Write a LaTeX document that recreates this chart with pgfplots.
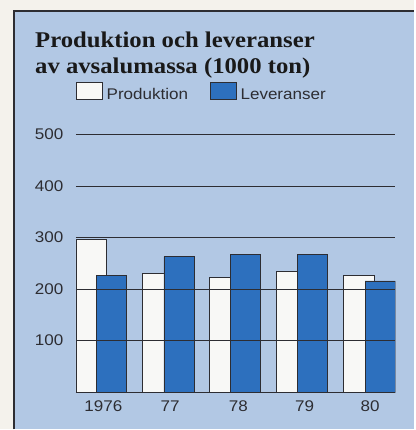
\documentclass[border=0pt]{standalone}
\usepackage{pgfplots}
\pgfplotsset{compat=1.18}
\usepackage{fontspec}
\setmainfont{Liberation Serif}[FakeStretch=1.1]
\setsansfont{Liberation Sans}[FakeStretch=1.1]
\definecolor{paper}{RGB}{244,242,236}
\definecolor{panel}{RGB}{178,200,228}
\definecolor{levblue}{RGB}{45,112,190}
\definecolor{prodwhite}{RGB}{248,248,246}
\definecolor{rule}{RGB}{45,45,50}
\begin{document}
\begin{tikzpicture}
\fill[paper] (0,0) rectangle (415bp,430bp);
\fill[panel] (14bp,0) rectangle (415bp,419bp);
\draw[rule, line width=1.2bp] (14bp,0) -- (14bp,419bp) -- (415bp,419bp);
\node[anchor=base west, inner sep=0pt, font=\fontsize{22.5bp}{26bp}\selectfont\bfseries, text=black!90] at (35bp,382bp) {Produktion och leveranser};
\node[anchor=base west, inner sep=0pt, font=\fontsize{22.5bp}{26bp}\selectfont\bfseries, text=black!90] at (35bp,356bp) {av avsalumassa (1000 ton)};
\begin{axis}[
  at={(76bp,37.3bp)}, anchor=south west,
  scale only axis, width=320bp, height=258bp,
  xmin=-0.23, xmax=4.55, ymin=0, ymax=500,
  axis line style={draw=none},
  major tick length=0pt,
  ytick={0,100,200,300,400,500},
  yticklabels={,100,200,300,400,500},
  ymajorgrids, grid style={rule, line width=0.8bp},
  xtick={0.18,1.18,2.2,3.19,4.17},
  xticklabels={1976,77,78,79,80},
  tick label style={font=\sffamily\fontsize{15.5bp}{18bp}\selectfont, text=rule},
  yticklabel style={anchor=east, xshift=-9bp},
  xticklabel style={anchor=north, yshift=-5bp},
  axis on top,
  ybar, bar width=0.46,
  legend style={draw=none, fill=none, at={(0,1)}, anchor=south west, yshift=33.4bp,
    inner sep=0pt, font=\sffamily\fontsize{15.5bp}{18bp}\selectfont, text=rule,
    legend columns=2,
    /tikz/every odd column/.append style={column sep=4bp},
    /tikz/every even column/.append style={column sep=22bp},
    nodes={inner sep=0pt}},
  legend image code/.code={\draw[#1] (0bp,-4.8bp) rectangle (26bp,12.5bp);},
]
\addplot[draw=rule, line width=0.6bp, fill=prodwhite, bar shift=0pt, bar width=0.46]
  coordinates {(0,297) (1,231) (2,222) (3,234) (4,226)};
\addlegendentry{Produktion}
\addplot[draw=rule, line width=0.6bp, fill=levblue, bar shift=0pt, bar width=0.45]
  coordinates {(0.30,227) (1.31,263) (2.31,268) (3.31,268) (4.32,216)};
\addlegendentry{Leveranser}
\end{axis}
\end{tikzpicture}
\end{document}
